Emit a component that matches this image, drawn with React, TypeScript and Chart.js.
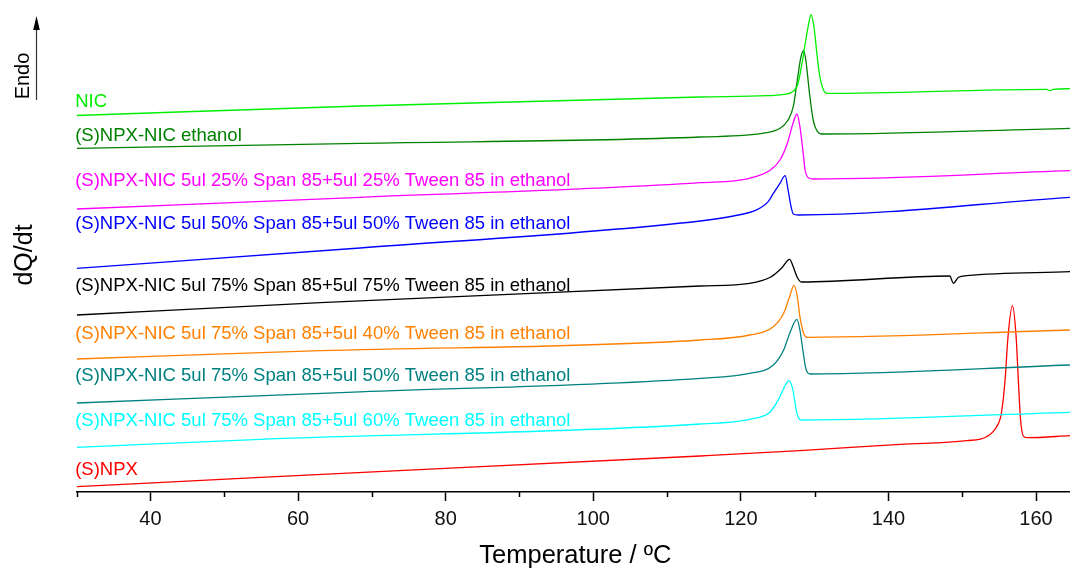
import React, { useEffect, useRef } from 'react';
import { Chart, registerables } from 'chart.js';

Chart.register(...registerables);

const FONT = "'Liberation Sans', Arial, sans-serif";

// Axis ticks (°C)
const majorTicks = [40, 60, 80, 100, 120, 140, 160];
const minorTicks = [30, 50, 70, 90, 110, 130, 150];

// Curve names (labels shown on the plot)
const curveNames = [
  'NIC',
  '(S)NPX-NIC ethanol',
  '(S)NPX-NIC 5ul 25% Span 85+5ul 25% Tween 85 in ethanol',
  '(S)NPX-NIC 5ul 50% Span 85+5ul 50% Tween 85 in ethanol',
  '(S)NPX-NIC 5ul 75% Span 85+5ul 75% Tween 85 in ethanol',
  '(S)NPX-NIC 5ul 75% Span 85+5ul 40% Tween 85 in ethanol',
  '(S)NPX-NIC 5ul 75% Span 85+5ul 50% Tween 85 in ethanol',
  '(S)NPX-NIC 5ul 75% Span 85+5ul 60% Tween 85 in ethanol',
  '(S)NPX',
];
const curveColors = ['#00ee00', '#008000', '#ff00ff', '#0000ff', '#000000', '#ff8000', '#008080', '#00ffff', '#ff0000'];
// Vertical (offset dQ/dt) position of each curve's text label
const labelLevels = [385, 351, 306, 263, 201, 153, 111, 66, 17];

// Temperature (°C) and offset heat flow (arb. units) for each curve
const nicT = [30, 68.4, 114.5, 123.5, 125.8, 127.6, 128.2, 128.8, 129.2, 129.5, 129.9, 130.3, 130.7, 131.1, 131.6, 161.4, 161.9, 162.3, 164.6];
const nicY = [376.5, 386, 395, 396.3, 397.7, 405.3, 425.3, 452, 468.7, 477.3, 465.3, 438.7, 415.3, 403.7, 398.7, 402.7, 401.3, 402.7, 403.3];

const ethT = [30, 68.4, 114.5, 123.5, 125.3, 126.4, 127.1, 127.65, 128.1, 128.5, 128.8, 129.3, 129.8, 130.3, 131.0, 164.6];
const ethY = [343.7, 348.7, 355, 359.3, 363.7, 372, 385.3, 412, 433.7, 441.3, 432, 398.7, 372, 361.3, 358, 363.7];

const s25T = [30, 68.4, 114.5, 121.2, 124.0, 125.3, 126.3, 127.0, 127.6, 128.0, 128.4, 128.7, 129.3, 129.8, 164.6];
const s25Y = [283, 294.7, 309.3, 313.7, 322, 332, 348.7, 367, 378, 365.3, 342, 322, 313.7, 313, 321.3];

const s50T = [30, 68.4, 114.5, 119.0, 122.2, 123.7, 124.4, 125.3, 126.0, 126.4, 126.8, 127.1, 127.8, 164.6];
const s50Y = [223.7, 244, 271, 276, 282.3, 290.3, 298.7, 308.7, 316.3, 302, 285.3, 278, 277, 294.7];

const s75T = [30, 63.0, 114.5, 121.2, 124.0, 125.5, 126.6, 127.1, 127.6, 128.2, 148.3, 148.8, 149.5, 150.6, 164.6];
const s75Y = [177, 189.3, 206, 208.7, 214.7, 223.7, 232.7, 225.3, 215.3, 210, 216, 208.7, 214.7, 216.3, 220.3];

const t40T = [30, 63.0, 114.5, 121.2, 124.4, 125.8, 126.6, 127.2, 127.65, 128.0, 128.5, 129.0, 164.6];
const t40Y = [133, 141.3, 152, 157, 165.3, 178.7, 195.3, 206.7, 195.3, 175.3, 158.7, 154.7, 162];

const t50T = [30, 68.4, 114.5, 121.2, 124.4, 125.8, 126.7, 127.6, 128.0, 128.4, 128.8, 129.4, 164.6];
const t50Y = [89, 100.2, 113.7, 118.7, 127, 142, 160.3, 172.7, 162, 142, 123.7, 118, 127];

const t60T = [30, 54.9, 114.5, 121.2, 124.0, 125.3, 126.1, 126.5, 127.0, 127.6, 128.2, 164.6];
const t60Y = [44.7, 52.7, 68, 72.7, 80.3, 95.3, 108, 111.3, 103.7, 78.7, 72, 79.7];

const npxT = [30, 54.9, 114.5, 128.0, 141.6, 150.6, 153.3, 154.65, 155.3, 155.8, 156.2, 156.8, 157.3, 157.6, 157.9, 158.35, 158.9, 164.6];
const npxY = [5.3, 14.7, 36, 41.3, 47.7, 51.3, 55.3, 65.3, 78.7, 112, 155.3, 186.3, 155.3, 112, 72, 55.3, 54.3, 56.3];

const curveT = [nicT, ethT, s25T, s50T, s75T, t40T, t50T, t60T, npxT];
const curveY = [nicY, ethY, s25Y, s50Y, s75Y, t40Y, t50Y, t60Y, npxY];

const xTitle = 'Temperature / ºC';
const yTitle = 'dQ/dt';
const endoText = 'Endo';

const overlayPlugin = {
  id: 'overlay',
  afterDraw(chart: any) {
    const { ctx, chartArea, scales } = chart;
    const xs = scales.x;
    const ys = scales.y;
    ctx.save();
    // minor ticks
    ctx.strokeStyle = '#000';
    ctx.lineWidth = 1.5;
    minorTicks.forEach((v) => {
      const px = Math.round(xs.getPixelForValue(v)) + 0.5;
      ctx.beginPath();
      ctx.moveTo(px, chartArea.bottom);
      ctx.lineTo(px, chartArea.bottom + 5);
      ctx.stroke();
    });
    // x title
    ctx.fillStyle = '#000';
    ctx.font = `25.5px ${FONT}`;
    ctx.textAlign = 'center';
    ctx.textBaseline = 'alphabetic';
    ctx.fillText(xTitle, (chartArea.left + chartArea.right) / 2 + 2, 563);
    // y title
    ctx.save();
    ctx.translate(32, 255);
    ctx.rotate(-Math.PI / 2);
    ctx.font = `25px ${FONT}`;
    ctx.textAlign = 'center';
    ctx.fillText(yTitle, 0, 0);
    ctx.restore();
    // Endo + arrow
    ctx.save();
    ctx.translate(29, 76);
    ctx.rotate(-Math.PI / 2);
    ctx.font = `20px ${FONT}`;
    ctx.textAlign = 'center';
    ctx.fillText(endoText, 0, 0);
    ctx.restore();
    ctx.strokeStyle = '#333';
    ctx.lineWidth = 1.2;
    ctx.beginPath();
    ctx.moveTo(36.5, 100);
    ctx.lineTo(36.5, 26);
    ctx.stroke();
    ctx.fillStyle = '#000';
    ctx.beginPath();
    ctx.moveTo(36.5, 16);
    ctx.lineTo(33.2, 30);
    ctx.lineTo(39.8, 30);
    ctx.closePath();
    ctx.fill();
    // curve labels
    ctx.font = `18.5px ${FONT}`;
    ctx.textAlign = 'left';
    ctx.textBaseline = 'alphabetic';
    curveNames.forEach((name, i) => {
      ctx.fillStyle = curveColors[i];
      ctx.fillText(name, chartArea.left - 1.5, ys.getPixelForValue(labelLevels[i]));
    });
    ctx.restore();
  },
};

export default function App() {
  const ref = useRef<HTMLCanvasElement | null>(null);
  useEffect(() => {
    if (!ref.current) return;
    const datasets = curveNames.map((name, i) => ({
      label: name,
      data: curveT[i].map((t, j) => ({ x: t, y: curveY[i][j] })),
      borderColor: curveColors[i],
      borderWidth: 1.3,
      pointRadius: 0,
      fill: false,
      cubicInterpolationMode: 'monotone' as const,
    }));
    const chart = new Chart(ref.current, {
      type: 'line',
      data: { datasets },
      options: {
        animation: false,
        responsive: false,
        devicePixelRatio: 1,
        layout: { padding: { left: 76.7, right: 0, top: 0, bottom: 0 } },
        plugins: { legend: { display: false }, tooltip: { enabled: false } },
        scales: {
          x: {
            type: 'linear',
            min: 30,
            max: 164.6,
            afterBuildTicks: (s: any) => {
              s.ticks = majorTicks.map((v) => ({ value: v }));
            },
            afterFit: (s: any) => {
              s.height = 76;
            },
            grid: { drawOnChartArea: false, drawTicks: true, tickLength: 9, tickColor: '#000', tickWidth: 1.5 },
            border: { display: true, color: '#000', width: 1.5 },
            ticks: { color: '#111', font: { family: FONT, size: 20 }, padding: 6, maxRotation: 0, autoSkip: false },
          },
          y: { display: false, min: 0, max: 492 },
        },
      },
      plugins: [overlayPlugin],
    });
    return () => chart.destroy();
  }, []);
  return (
    <div style={{ position: 'absolute', left: 0, top: 0, width: 1070, height: 568, background: '#fff' }}>
      <canvas ref={ref} width={1070} height={568} style={{ display: 'block' }} />
    </div>
  );
}
